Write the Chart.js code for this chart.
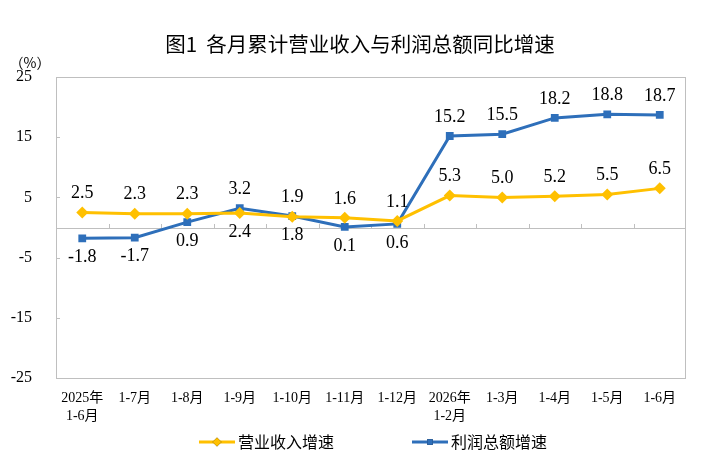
<!DOCTYPE html>
<html>
<head>
<meta charset="utf-8">
<script src="https://cdn.jsdelivr.net/npm/chart.js@4.4.1/dist/chart.umd.min.js"></script>
<style>
  html, body { margin: 0; padding: 0; background: #fff; }
  canvas { display: block; }
</style>
</head>
<body>
<canvas id="chart1" width="720" height="459"></canvas>
<script>
var categories = [['2025年', '1-6月'], '1-7月', '1-8月', '1-9月', '1-10月', '1-11月', '1-12月',
                  ['2026年', '1-2月'], '1-3月', '1-4月', '1-5月', '1-6月'];
var revenue = [2.5, 2.3, 2.3, 2.4, 1.8, 1.6, 1.1, 5.3, 5.0, 5.2, 5.5, 6.5];
var profit = [-1.8, -1.7, 0.9, 3.2, 1.9, 0.1, 0.6, 15.2, 15.5, 18.2, 18.8, 18.7];
// where each value label sits relative to its point: 1 = above, -1 = below
var revenueLabelSide = [1, 1, 1, -1, -1, 1, 1, 1, 1, 1, 1, 1];
var profitLabelSide = [-1, -1, -1, 1, 1, -1, -1, 1, 1, 1, 1, 1];
var yMin = -25, yMax = 25, yStep = 10;

var serif = '"Times New Roman", "Liberation Serif", "Noto Sans CJK SC", serif';
var sans = '"Noto Sans CJK SC", "Noto Sans", sans-serif';
var frameColor = '#bfbfbf';

// frame, zero-line ticks, unit label and title
var decorPlugin = {
    id: 'decor',
    beforeDatasetsDraw: function(chart) {
        var ctx = chart.ctx, a = chart.chartArea;
        var xs = chart.scales.x, ys = chart.scales.y;
        var y0 = ys.getPixelForValue(0);
        ctx.save();
        ctx.strokeStyle = frameColor;
        ctx.lineWidth = 1;
        ctx.strokeRect(a.left + 0.5, a.top + 0.5, a.right - a.left - 1, a.bottom - a.top);
        ctx.beginPath();
        ctx.moveTo(a.left, Math.round(y0) + 0.5);
        ctx.lineTo(a.right, Math.round(y0) + 0.5);
        // category boundary ticks on the zero line
        for (var i = 0; i < categories.length - 1; i++) {
            var bx = Math.round((xs.getPixelForValue(i) + xs.getPixelForValue(i + 1)) / 2) + 0.5;
            ctx.moveTo(bx, Math.round(y0));
            ctx.lineTo(bx, Math.round(y0) - 4);
        }
        // inward y ticks
        for (var v = yMin; v <= yMax; v += yStep) {
            var ty = Math.round(ys.getPixelForValue(v)) + 0.5;
            ctx.moveTo(a.left, ty);
            ctx.lineTo(a.left + 4, ty);
        }
        ctx.stroke();
        ctx.restore();
    },
    afterDraw: function(chart) {
        var ctx = chart.ctx;
        ctx.save();
        ctx.fillStyle = '#000';
        ctx.textAlign = 'center';
        ctx.textBaseline = 'middle';
        ctx.font = '20.5px ' + sans;
        ctx.fillText('图1  各月累计营业收入与利润总额同比增速', 360, 44);
        ctx.font = '14px "Noto Sans CJK SC", serif';
        ctx.fillText('（%）', 30, 63);
        ctx.restore();
    }
};

// value labels above / below every point
var valueLabelPlugin = {
    id: 'valueLabels',
    afterDatasetsDraw: function(chart) {
        var ctx = chart.ctx;
        ctx.save();
        ctx.font = '18px ' + serif;
        ctx.fillStyle = '#000';
        ctx.textAlign = 'center';
        ctx.textBaseline = 'middle';
        chart.data.datasets.forEach(function(ds, di) {
            var meta = chart.getDatasetMeta(di);
            meta.data.forEach(function(pt, i) {
                var side = ds.labelSide[i];
                ctx.fillText(ds.data[i].toFixed(1), pt.x, pt.y - side * 19);
            });
        });
        ctx.restore();
    }
};

// legend with line + marker
var legendPlugin = {
    id: 'lineLegend',
    afterDraw: function(chart) {
        var ctx = chart.ctx, a = chart.chartArea;
        var cx = (a.left + a.right) / 2;
        var y = 442;
        var starts = [cx - 172, cx + 41];
        ctx.save();
        ctx.font = '16px ' + sans;
        ctx.textBaseline = 'middle';
        ctx.textAlign = 'left';
        chart.data.datasets.forEach(function(ds, di) {
            var x = starts[di];
            ctx.strokeStyle = ds.borderColor;
            ctx.lineWidth = 3;
            ctx.beginPath();
            ctx.moveTo(x, y);
            ctx.lineTo(x + 36, y);
            ctx.stroke();
            Chart.helpers.drawPoint(ctx, {
                pointStyle: ds.pointStyle,
                radius: ds.pointRadius - 1.5,
                borderWidth: 0
            }, x + 18, y);
            ctx.fillStyle = ds.borderColor;
            ctx.fill();
            ctx.fillStyle = '#000';
            ctx.fillText(ds.label, x + 39, y);
        });
        ctx.restore();
    }
};

var ctx = document.getElementById('chart1').getContext('2d');
var myChart = new Chart(ctx, {
    type: 'line',
    data: {
        labels: categories,
        datasets: [{
            label: '营业收入增速',
            data: revenue,
            labelSide: revenueLabelSide,
            borderColor: '#ffc000',
            backgroundColor: '#ffc000',
            borderWidth: 3,
            pointStyle: 'rectRot',
            pointRadius: 6,
            pointBorderWidth: 0,
            tension: 0
        },
        {
            label: '利润总额增速',
            data: profit,
            labelSide: profitLabelSide,
            borderColor: '#2e6fba',
            backgroundColor: '#2e6fba',
            borderWidth: 3,
            pointStyle: 'rect',
            pointRadius: 5.5,
            pointBorderWidth: 0,
            tension: 0
        }]
    },
    options: {
        responsive: false,
        animation: false,
        layout: {
            padding: { top: 77, right: 34, bottom: 0, left: 0 }
        },
        plugins: {
            legend: { display: false },
            title: { display: false },
            tooltip: { enabled: false }
        },
        scales: {
            x: {
                offset: true,
                grid: { display: false },
                border: { display: false },
                ticks: {
                    color: '#000',
                    padding: 4,
                    maxRotation: 0,
                    autoSkip: false,
                    font: { family: serif, size: 14, lineHeight: 1.25 }
                },
                afterFit: function(scale) { scale.height = 81; }
            },
            y: {
                min: yMin,
                max: yMax,
                grid: { display: false },
                border: { display: false },
                ticks: {
                    stepSize: yStep,
                    color: '#000',
                    padding: 16,
                    font: { family: serif, size: 16 }
                },
                afterFit: function(scale) { scale.width = 56; }
            }
        }
    },
    plugins: [decorPlugin, valueLabelPlugin, legendPlugin]
});
</script>
</body>
</html>
